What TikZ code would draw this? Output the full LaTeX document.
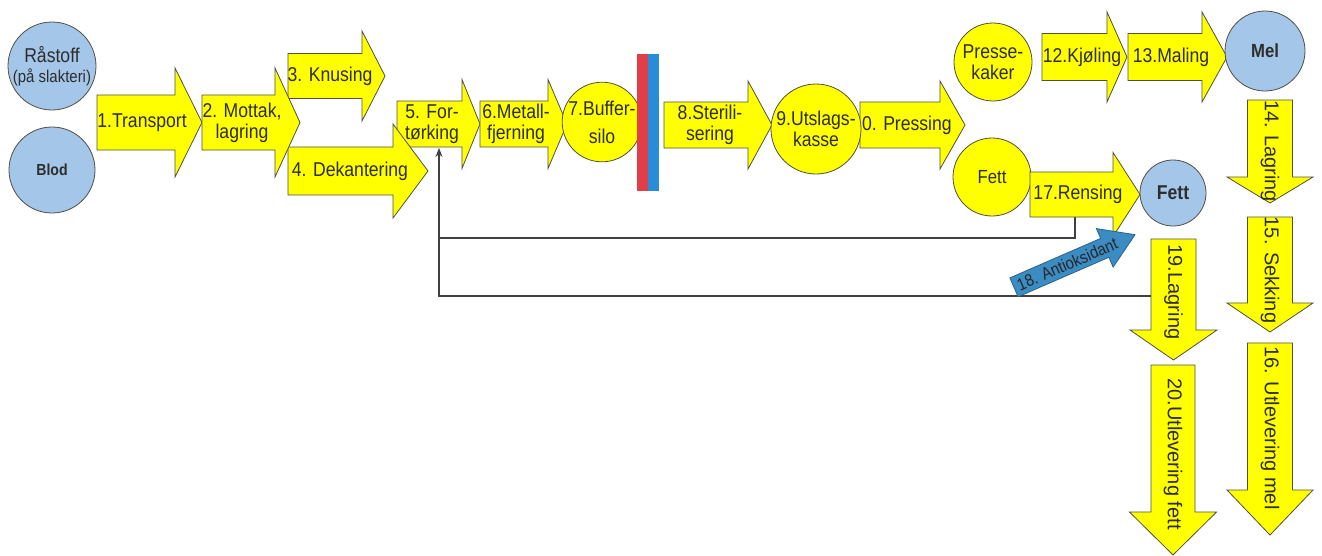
\documentclass[tikz,border=0pt]{standalone}
\usepackage{fontspec}
\setmainfont{Liberation Sans}[FakeStretch=0.88]
\newfontfamily\vfont{Liberation Sans}
\usetikzlibrary{arrows.meta}
\definecolor{ayellow}{RGB}{255,255,0}
\definecolor{cblue}{RGB}{164,198,232}
\definecolor{edgec}{RGB}{80,80,70}
\definecolor{txt}{RGB}{45,45,45}
\definecolor{barred}{RGB}{226,62,72}
\definecolor{barblue}{RGB}{40,140,215}
\definecolor{aoblue}{RGB}{60,140,196}
\tikzset{
  blockarrow/.style={fill=ayellow,draw=edgec,line width=0.8pt,line join=miter},
  lbl/.style={inner sep=0pt,align=center,text=txt,font=\fontsize{20}{21}\selectfont},
  vlbl/.style={inner sep=0pt,text=txt,rotate=-90,font=\vfont\fontsize{20}{21}\selectfont},
  ycirc/.style={circle,fill=ayellow,draw=edgec,line width=0.8pt,inner sep=0pt,align=center,text=txt,font=\fontsize{20}{21}\selectfont},
  bcirc/.style={circle,fill=cblue,draw=edgec,line width=0.8pt,inner sep=0pt,align=center,text=txt,font=\fontsize{20}{21}\selectfont},
  fbline/.style={draw=black!75,line width=1.2pt},
  aoarrow/.style={fill=aoblue,draw=aoblue!70!black,line width=0.8pt},
  aolbl/.style={inner sep=0pt,text=black!85,font=\fontsize{17}{17}\selectfont,transform shape}
}
% name, x1, x2, x3, yc, bodyhalf, headhalf, textx, text
\newcommand\harr[9]{%
  \draw[blockarrow] (#2,#5-#6) -- (#3,#5-#6) -- (#3,#5-#7) -- (#4,#5) -- (#3,#5+#7) -- (#3,#5+#6) -- (#2,#5+#6) -- cycle;
  \node[lbl] (#1) at (#8,#5) {#9};}
% name, xc, y1, y2, y3, bodyhalf, headhalf, texty, text
\newcommand\varr[9]{%
  \draw[blockarrow] (#2-#6,#3) -- (#2+#6,#3) -- (#2+#6,#4) -- (#2+#7,#4) -- (#2,#5) -- (#2-#7,#4) -- (#2-#6,#4) -- cycle;
  \node[vlbl] (#1) at (#2,#8) {#9};}
\begin{document}
\begin{tikzpicture}[x=1pt,y=-1pt]
\useasboundingbox[fill=white] (0,0) rectangle (1322,555);

% feedback connectors
\coordinate (r17b) at (1075,217);
\coordinate (a5b) at (439,148);
\coordinate (j1) at (439,238);
\coordinate (l19w) at (1151,296);
\draw[fbline,-{Stealth[length=9pt,width=7pt]}] (r17b) |- (j1) -- (a5b);
\draw[fbline] (l19w) -| (j1);

% source circles
\node[bcirc,minimum size=88pt] (raa) at (52,66) {Råstoff\\[-1pt]{\fontsize{17}{17}\selectfont(på slakteri)}};
\node[bcirc,minimum size=86pt,font=\bfseries\fontsize{16}{16}\selectfont] (blod) at (52,170) {Blod};

% main line
\harr{a1}{97}{175}{202}{122.5}{27.5}{54.5}{142}{1.Transport}
\harr{a5}{397}{462}{480}{124}{23}{44.5}{432}{5. For-\\tørking}
\harr{a3}{288}{362}{385}{76}{22.5}{45}{330}{3. Knusing}
\harr{a4}{288}{393}{428}{171}{24}{47}{350}{4. Dekantering}
\harr{a2}{202}{275}{300}{122.5}{27.5}{54.5}{242}{2. Mottak,\\lagring}
\harr{a6}{480}{548}{567}{124}{23}{44.5}{516}{6.Metall-\\fjerning}
\node[ycirc,minimum size=76pt] (c7) at (602,122) {7.Buffer-\\[7pt]silo};
\fill[barred] (637,54) rectangle (648,191);
\fill[barblue] (648,54) rectangle (659,191);
\harr{a8}{664}{748}{772}{125}{23}{44}{710}{8.Sterili-\\sering}
\harr{a10}{860}{940}{965}{125}{23}{44}{902}{10. Pressing}
\node[ycirc,minimum size=90pt] (c9) at (816,129) {9.Utslags-\\kasse};

% upper right: press cake
\node[ycirc,minimum size=78pt] (c11) at (993,62) {Presse-\\kaker};
\harr{a12}{1042}{1107}{1127}{57}{23.5}{45}{1082}{12.Kjøling}
\harr{a13}{1128}{1202}{1227}{57}{23.5}{45}{1171}{13.Maling}
\node[bcirc,minimum size=80pt,font=\bfseries\fontsize{19}{19}\selectfont] (mel) at (1265,51) {Mel};

% fat
\node[ycirc,minimum size=78pt,font=\fontsize{19}{19}\selectfont] (fett1) at (992,177) {Fett};
\harr{a17}{1030}{1113}{1140}{194.5}{22.5}{42}{1078}{17.Rensing}
\node[bcirc,minimum size=66pt,font=\bfseries\fontsize{20}{20}\selectfont] (fett2) at (1173,193) {Fett};

% vertical arrows
\varr{a14}{1270}{100}{177}{203}{22.5}{43}{151}{14. Lagring}
\varr{a15}{1270}{217}{303}{332}{22.5}{43}{270}{15. Sekking}
\varr{a16}{1270}{343}{490}{535}{22.5}{43}{428}{16. Utlevering mel}
\varr{a19}{1173.5}{239}{330}{360}{22.5}{43.5}{292}{19.Lagring}
\varr{a20}{1173}{365}{512}{555}{22}{43.5}{454}{20.Utlevering fett}

% antioxidant
\begin{scope}[shift={(1074.5,261)},rotate=23.5]
  \draw[aoarrow] (-66,-10.3) -- (33,-10.3) -- (33,-21) -- (66,0) -- (33,21) -- (33,10.3) -- (-66,10.3) -- cycle;
  \node[aolbl] (ao) at (-8,0) {18. Antioksidant};
\end{scope}
\end{tikzpicture}
\end{document}
